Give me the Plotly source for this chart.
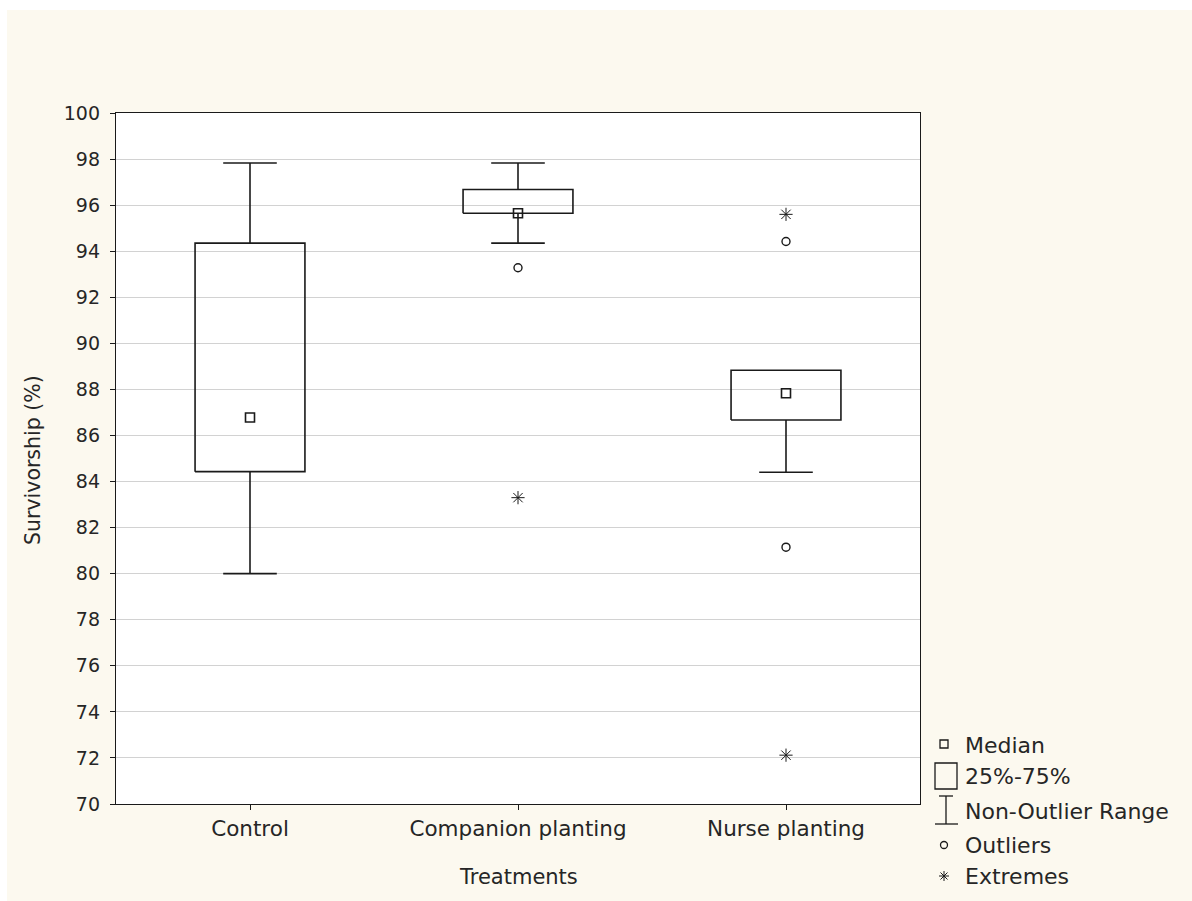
import plotly.graph_objects as go

# ---- data ----
categories = ["Control", "Companion planting", "Nurse planting"]
medians = [86.78, 95.65, 87.83]
q1 = [84.43, 95.65, 86.67]
q3 = [94.35, 96.68, 88.83]
whisk_low = [80.0, 94.35, 84.40]
whisk_high = [97.83, 97.83, 86.67]
outlier_x = ["Companion planting", "Nurse planting", "Nurse planting"]
outlier_y = [93.28, 94.42, 81.15]
extreme_x = ["Companion planting", "Nurse planting", "Nurse planting"]
extreme_y = [83.30, 95.60, 72.12]
y_ticks = list(range(70, 101, 2))

# ---- layout constants ----
W, H = 1192, 901
L, R, T, B = 116, 920, 113, 804
BOX_HW = 0.205
CAP_HW = 0.10
INK = "#1a1a1a"
TXT = "#262626"
FONT = "DejaVu Sans, Liberation Sans, Arial, sans-serif"
CREAM = "#FCF9EF"

pos = {c: i for i, c in enumerate(categories)}

bx, by = [], []
for i in range(len(categories)):
    bx += [i - BOX_HW, i + BOX_HW, i + BOX_HW, i - BOX_HW, i - BOX_HW, None]
    by += [q1[i], q1[i], q3[i], q3[i], q1[i], None]

wx, wy = [], []
for i in range(len(categories)):
    if whisk_high[i] > q3[i]:
        wx += [i, i, None, i - CAP_HW, i + CAP_HW, None]
        wy += [q3[i], whisk_high[i], None, whisk_high[i], whisk_high[i], None]
    if whisk_low[i] < q1[i]:
        wx += [i, i, None, i - CAP_HW, i + CAP_HW, None]
        wy += [q1[i], whisk_low[i], None, whisk_low[i], whisk_low[i], None]

fig = go.Figure()
fig.add_trace(go.Scatter(x=bx, y=by, mode="lines", line=dict(color=INK, width=1.6),
                         hoverinfo="skip", showlegend=False))
fig.add_trace(go.Scatter(x=wx, y=wy, mode="lines", line=dict(color=INK, width=1.6),
                         hoverinfo="skip", showlegend=False))
fig.add_trace(go.Scatter(x=list(range(len(categories))), y=medians, mode="markers",
                         marker=dict(symbol="square-open", size=9, color=INK, line=dict(width=1.6)),
                         showlegend=False, name="Median"))
fig.add_trace(go.Scatter(x=[pos[c] for c in outlier_x], y=outlier_y, mode="markers",
                         marker=dict(symbol="circle-open", size=8, color=INK, line=dict(width=1.4)),
                         showlegend=False, name="Outliers"))
fig.add_trace(go.Scatter(x=[pos[c] for c in extreme_x], y=extreme_y, mode="markers",
                         marker=dict(symbol="asterisk-open", size=11, color=INK, line=dict(width=1)),
                         showlegend=False, name="Extremes"))

def px(xp):
    return (xp - L) / (R - L)

def py(yp):
    return (B - yp) / (B - T)

shapes = []
ann = []
# thin white strips at top and left, as in the reference scan
shapes.append(dict(type="rect", xref="paper", yref="paper", layer="below",
                   x0=px(-5), x1=px(W + 5), y0=py(10), y1=py(-5),
                   fillcolor="#FFFFFF", line=dict(width=0)))
shapes.append(dict(type="rect", xref="paper", yref="paper", layer="below",
                   x0=px(-5), x1=px(7), y0=py(H + 5), y1=py(-5),
                   fillcolor="#FFFFFF", line=dict(width=0)))
shapes.append(dict(type="rect", xref="paper", yref="paper", layer="below",
                   x0=0, x1=1, y0=0, y1=1, fillcolor="#FFFFFF", line=dict(width=0)))

ls = dict(color=INK, width=1.3)
shapes.append(dict(type="rect", xref="paper", yref="paper", x0=px(940), x1=px(948),
                   y0=py(748), y1=py(740), line=ls))
shapes.append(dict(type="rect", xref="paper", yref="paper", x0=px(935), x1=px(957),
                   y0=py(789), y1=py(763), line=ls))
shapes.append(dict(type="line", xref="paper", yref="paper", x0=px(946), x1=px(946),
                   y0=py(796), y1=py(824), line=ls))
shapes.append(dict(type="line", xref="paper", yref="paper", x0=px(939), x1=px(953),
                   y0=py(796), y1=py(796), line=ls))
shapes.append(dict(type="line", xref="paper", yref="paper", x0=px(935), x1=px(958),
                   y0=py(824), y1=py(824), line=ls))
shapes.append(dict(type="circle", xref="paper", yref="paper", x0=px(940.5), x1=px(947.5),
                   y0=py(848.5), y1=py(841.5), line=ls))
cx, cy, r = 944, 876, 5
for dx, dy in [(r, 0), (0, r), (0.7 * r, 0.7 * r), (0.7 * r, -0.7 * r)]:
    shapes.append(dict(type="line", xref="paper", yref="paper", x0=px(cx - dx), x1=px(cx + dx),
                       y0=py(cy - dy), y1=py(cy + dy), line=dict(color=INK, width=1)))

legend_items = [("Median", 745), ("25%-75%", 776), ("Non-Outlier Range", 811),
                ("Outliers", 845), ("Extremes", 876)]
for txt, yy in legend_items:
    ann.append(dict(text=txt, xref="paper", yref="paper", x=px(963), y=py(yy),
                    xanchor="left", yanchor="middle", showarrow=False,
                    font=dict(family=FONT, size=22, color=TXT)))

ann.append(dict(text="Survivorship (%)", xref="paper", yref="paper", x=px(33), y=py(460),
                xanchor="center", yanchor="middle", textangle=-90, showarrow=False,
                font=dict(family=FONT, size=20.5, color=TXT)))
ann.append(dict(text="Treatments", xref="paper", yref="paper", x=px(518), y=py(877),
                xanchor="center", yanchor="middle", showarrow=False,
                font=dict(family=FONT, size=21, color=TXT)))

fig.update_layout(
    width=W, height=H,
    margin=dict(l=L, r=W - R, t=T, b=H - B),
    paper_bgcolor=CREAM,
    plot_bgcolor="rgba(0,0,0,0)",
    font=dict(family=FONT, size=20, color=TXT),
    shapes=shapes,
    annotations=ann,
    xaxis=dict(range=[-0.5, 2.5], tickvals=list(range(len(categories))), ticktext=categories,
               showgrid=False, zeroline=False, showline=True, mirror=True, linecolor=INK,
               linewidth=1.3, ticks="outside", ticklen=5, tickcolor=INK,
               tickfont=dict(family=FONT, size=21.5, color=TXT)),
    yaxis=dict(range=[70, 100], tickvals=y_ticks, ticktext=[str(v) for v in y_ticks],
               showgrid=True, gridcolor="#D2D2D2", gridwidth=1, zeroline=False,
               showline=True, mirror=True, linecolor=INK, linewidth=1.3,
               ticks="outside", ticklen=5, tickcolor=INK, ticklabelstandoff=6,
               tickfont=dict(family=FONT, size=19, color=TXT)),
)

fig.write_html("out.html")
